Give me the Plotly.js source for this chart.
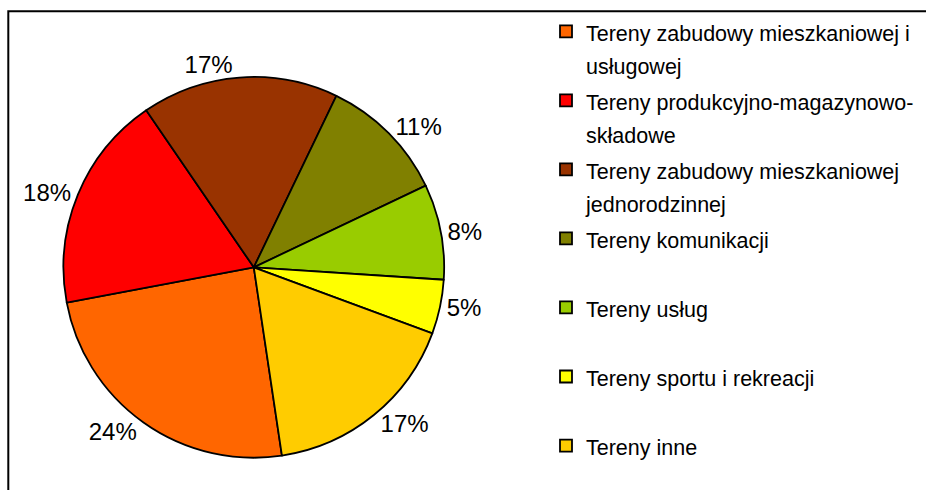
<!DOCTYPE html>
<html>
<head>
<meta charset="utf-8">
<script src="https://cdn.plot.ly/plotly-3.0.1.min.js"></script>
<style>
  html, body { margin: 0; padding: 0; background: #ffffff; }
  #chart { width: 926px; height: 490px; }
</style>
</head>
<body>
<div id="chart"></div>
<script>
// Categories (slice order, clockwise)
const categories = [
  "Tereny zabudowy mieszkaniowej i usługowej",
  "Tereny produkcyjno-magazynowo-składowe",
  "Tereny zabudowy mieszkaniowej jednorodzinnej",
  "Tereny komunikacji",
  "Tereny usług",
  "Tereny sportu i rekreacji",
  "Tereny inne"
];
// Legend text as wrapped in the reference
const legendLines = [
  ["Tereny zabudowy mieszkaniowej i", "usługowej"],
  ["Tereny produkcyjno-magazynowo-", "składowe"],
  ["Tereny zabudowy mieszkaniowej", "jednorodzinnej"],
  ["Tereny komunikacji"],
  ["Tereny usług"],
  ["Tereny sportu i rekreacji"],
  ["Tereny inne"]
];
// Shares in percent
const shares = [24.4, 18.4, 16.7, 10.8, 8.1, 4.6, 17.0];
const colors = ["#FF6600", "#FF0000", "#993300", "#808000", "#99CC00", "#FFFF00", "#FFCC00"];

const FONT = "Liberation Sans, Arial, sans-serif";

const legendLabels = legendLines.map(function (lines, i) {
  var l = lines.slice();
  if (i < legendLines.length - 1 && l.length < 2) l.push("\u00a0");
  return l.map(function (s) { return '<span style="font-size:21.5px">' + s + '</span>'; }).join("<br>");
});

const trace = {
  type: "pie",
  labels: legendLabels,
  values: shares,
  customdata: categories,
  sort: false,
  direction: "clockwise",
  rotation: 171.5,
  marker: { colors: colors, line: { color: "#000000", width: 1.8 } },
  textposition: "outside",
  texttemplate: "%{percent:.0%}",
  outsidetextfont: { family: FONT, size: 24, color: "#000000" },
  hovertemplate: "%{customdata}: %{percent:.0%}<extra></extra>",
  domain: { x: [63.3 / 926, 444.3 / 926], y: [1 - 457.7 / 490, 1 - 77 / 490] },
  automargin: false
};

const layout = {
  width: 926,
  height: 490,
  margin: { l: 0, r: 0, t: 0, b: 0, autoexpand: false },
  paper_bgcolor: "#ffffff",
  plot_bgcolor: "#ffffff",
  showlegend: true,
  legend: {
    x: 546 / 926,
    xanchor: "left",
    y: 1 - 8.3 / 490,
    yanchor: "top",
    valign: "top",
    bgcolor: "rgba(0,0,0,0)",
    borderwidth: 0,
    maxheight: 1000,
    font: { family: FONT, size: 25.4, color: "#000000" }
  },
  shapes: [
    {
      type: "rect", xref: "paper", yref: "paper",
      x0: 8.3 / 926, x1: 1.05, y0: -0.05, y1: 1 - 11.2 / 490,
      line: { color: "#000000", width: 2 }, fillcolor: "rgba(0,0,0,0)"
    }
  ]
};

Plotly.newPlot("chart", [trace], layout, { displayModeBar: false, staticPlot: true });
</script>
</body>
</html>
